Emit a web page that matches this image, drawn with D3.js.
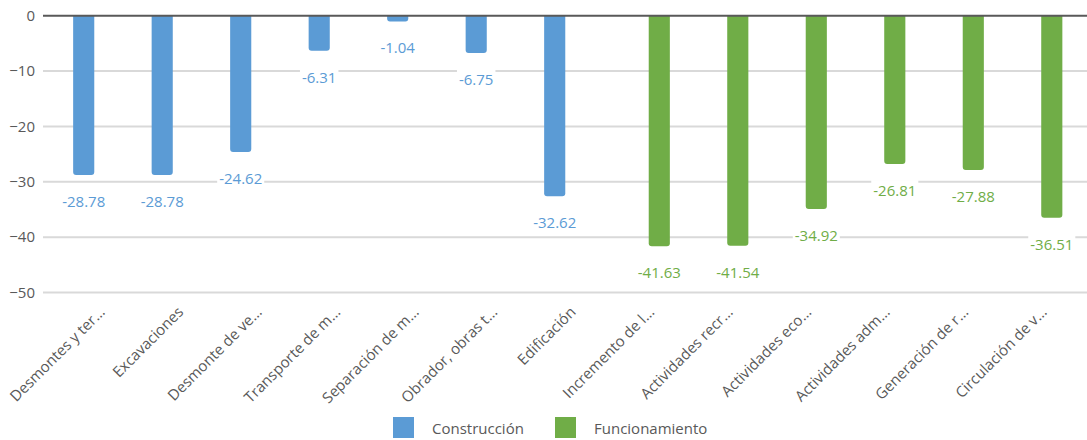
<!DOCTYPE html>
<html>
<head>
<meta charset="utf-8">
<script src="https://cdn.jsdelivr.net/npm/d3@7"></script>
<style>
html,body{margin:0;padding:0;background:#fff;}
svg{display:block;font-family:"Open Sans",sans-serif;}
</style>
</head>
<body>
<svg id="chart" width="1087" height="440"></svg>
<script>
const categories = [
  "Desmontes y ter...", "Excavaciones", "Desmonte de ve...", "Transporte de m...",
  "Separación de m...", "Obrador, obras t...", "Edificación", "Incremento de l...",
  "Actividades recr...", "Actividades eco...", "Actividades adm...", "Generación de r...",
  "Circulación de v..."
];
const seriesNames = ["Construcción", "Funcionamiento"];
const construccion = [-28.78, -28.78, -24.62, -6.31, -1.04, -6.75, -32.62, null, null, null, null, null, null];
const funcionamiento = [null, null, null, null, null, null, null, -41.63, -41.54, -34.92, -26.81, -27.88, -36.51];
const yTicks = [0, -10, -20, -30, -40, -50];
const colors = ["#5B9BD5", "#70AD47"];
const labelColors = ["#5B9BD5", "#70AD47"];

const svg = d3.select("#chart");
const x0 = d3.scaleBand().domain(categories).range([57.5, 1078]).padding(0);
const x1 = d3.scaleBand().domain(seriesNames).range([0, x0.bandwidth()]).paddingInner(0.19).paddingOuter(0.6);
const y = d3.scaleLinear().domain([-50, 0]).range([292.5, 15.7]);

// gridlines
const yAxis = d3.axisLeft(y).tickValues(yTicks).tickSize(0).tickPadding(0);
const gridG = svg.append("g");
gridG.selectAll("line").data(yTicks.filter(d => d !== 0)).join("line")
  .attr("x1", 43).attr("x2", 1087)
  .attr("y1", d => y(d)).attr("y2", d => y(d))
  .attr("stroke", "#d9d9d9").attr("stroke-width", 2);

const ax = svg.append("g").attr("transform", "translate(35,0)").call(yAxis);
ax.select(".domain").remove();
ax.selectAll("text").attr("font-size", 15).attr("fill", "#595959")
  .attr("font-family", "'Open Sans',sans-serif").attr("text-anchor", "end");

// data
const data = [];
categories.forEach((c, i) => {
  [construccion, funcionamiento].forEach((arr, s) => {
    if (arr[i] !== null) data.push({cat: c, series: seriesNames[s], s, v: arr[i]});
  });
});

function barPath(d) {
  const xl = x0(d.cat) + x1(d.series);
  const w = x1.bandwidth();
  const top = y(0);
  const bot = y(d.v);
  const r = Math.min(3, (bot - top) / 2);
  return `M${xl},${top}L${xl + w},${top}L${xl + w},${bot - r}Q${xl + w},${bot} ${xl + w - r},${bot}L${xl + r},${bot}Q${xl},${bot} ${xl},${bot - r}Z`;
}

svg.append("g").selectAll("path").data(data).join("path")
  .attr("d", barPath).attr("fill", d => colors[d.s]);

// zero line
svg.append("line").attr("x1", 43).attr("x2", 1087)
  .attr("y1", y(0)).attr("y2", y(0))
  .attr("stroke", "#595959").attr("stroke-width", 2);

// data labels
const lg = svg.append("g");
data.forEach(d => {
  const cx = x0(d.cat) + x1(d.series) + x1.bandwidth() / 2;
  const cy = y(d.v) + 26;
  const g = lg.append("g");
  const rect = g.append("rect").attr("fill", "#fff");
  const t = g.append("text").attr("x", cx).attr("y", cy)
    .attr("text-anchor", "middle").attr("dominant-baseline", "central")
    .attr("font-size", 15).attr("fill", labelColors[d.s]).text(d.v.toFixed(2));
  const bb = t.node().getBBox();
  rect.attr("x", bb.x - 2).attr("y", bb.y).attr("width", bb.width + 4).attr("height", bb.height);
});

// category labels
svg.append("g").selectAll("text").data(categories).join("text")
  .attr("transform", d => `translate(${x0(d) + x0.bandwidth() / 2 + 9},${313}) rotate(-45)`)
  .attr("text-anchor", "end").attr("font-size", 15).attr("fill", "#595959")
  .text(d => d);

// legend
const leg = svg.append("g");
const legX = [393, 555];
seriesNames.forEach((n, i) => {
  leg.append("rect").attr("x", legX[i]).attr("y", 417).attr("width", 21).attr("height", 21).attr("fill", colors[i]);
  leg.append("text").attr("x", legX[i] + 39).attr("y", 428).attr("dominant-baseline", "central")
    .attr("font-size", 15).attr("fill", "#595959").text(n);
});
</script>
</body>
</html>
